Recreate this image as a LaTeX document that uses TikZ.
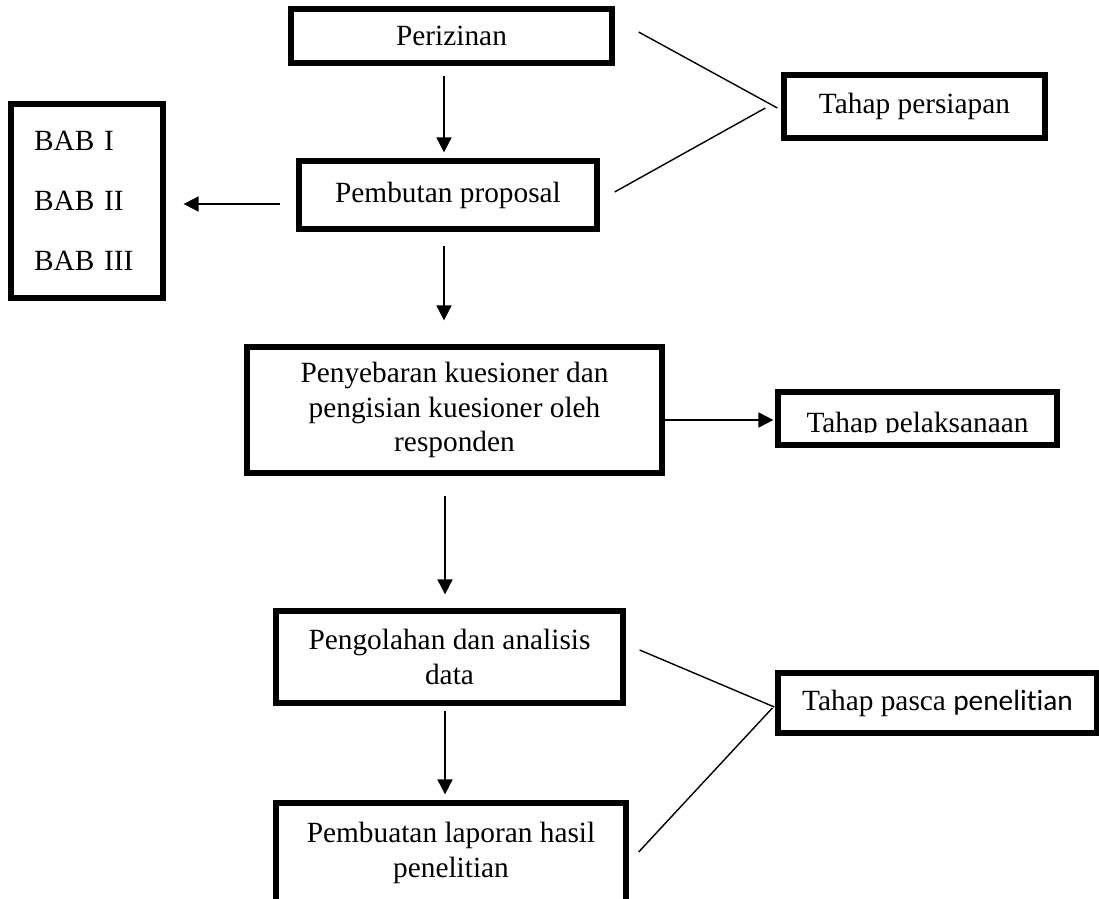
\documentclass[tikz,border=0pt]{standalone}
\usepackage{fontspec}
\setmainfont{Liberation Serif}
\newfontfamily\calibri[Ligatures={NoCommon}]{Carlito}
\usetikzlibrary{calc, arrows.meta}
\tikzset{dim/.style n args={2}{minimum width=#1*0.02cm, minimum height=#2*0.02cm}}

\begin{document}
\begin{tikzpicture}[x=0.02cm, y=-0.02cm, thick,
   main node/.style={rectangle, draw, line width=3pt, inner sep=0pt, align=center, font=\fontsize{16.7}{19.6}\selectfont},
   arrow/.style={line width=1.1pt, -{Triangle[length=8.5pt, width=8.5pt]}},
   line/.style={line width=0.8pt}]
   \clip[use as bounding box] (0,0) rectangle (1099,899);

   \node[main node, dim={321}{54}]  (0) at (451.5,36)  {Perizinan};
   \node[main node, dim={298}{68}]  (1) at (448,195)   {Pembutan proposal};
   \node[main node, dim={152}{194}, align=left, text width=2.12cm] (2) at (87,201)
      {BAB I\\[14.5pt] BAB II\\[14.5pt] BAB III};
   \node[main node, dim={261}{63}]  (3) at (914.5,106.5) {Tahap persiapan};
   \node[main node, dim={415}{126}] (4) at (454.5,410)
      {Penyebaran kuesioner dan\\ pengisian kuesioner oleh\\ responden};
   \node[main node, dim={279}{53}]  (5) at (917.5,418.5) {};
   \begin{scope}
      \clip (5.north west) rectangle ($(5.east)+(0,13.5)$);
      \node[main node, draw=none] (6) at ($(5)+(0,6.5)$) {Tahap pelaksanaan};
   \end{scope}
   \node[main node, dim={347}{92}]  (7) at (449.5,657) {Pengolahan dan analisis\\ data};
   \node[main node, dim={350}{100}] (8) at (451,853)   {Pembuatan laporan hasil\\ penelitian};
   \node[main node, dim={319}{60}]  (9) at (937.5,703) {Tahap pasca {\calibri penelitian}};

   % alur
   \draw ($(0.south)+(-7.5,10)$) edge[arrow] ($(1.north)+(-4,-6)$);
   \draw ($(1.west)+(-16,9)$)    edge[arrow] ($(2.east)+(18,3)$);
   \draw ($(1.south)+(-4,14)$)   edge[arrow] ($(4.north)+(-10.5,-24)$);
   \draw ($(4.east)+(0,10)$)     edge[arrow] ($(5.west)+(-2,1.5)$);
   \draw ($(4.south)+(-9.5,20)$) edge[arrow] ($(7.north)+(-4.5,-14)$);
   \draw ($(7.south)+(-4.5,5)$)  edge[arrow] ($(8.north)+(-6,-6)$);

   % tahap
   \draw ($(0.east)+(24,-4)$) edge[line] ($(3.west)+(-4,1.5)$);
   \draw ($(1.east)+(15,-3)$) edge[line] ($(3.west)+(-16,1.5)$);
   \draw ($(7.east)+(14,-7)$) edge[line] ($(9.west)+(-1,4)$);
   \draw ($(8.east)+(10,-1)$) edge[line] ($(9.west)+(-3,5)$);
\end{tikzpicture}
\end{document}
